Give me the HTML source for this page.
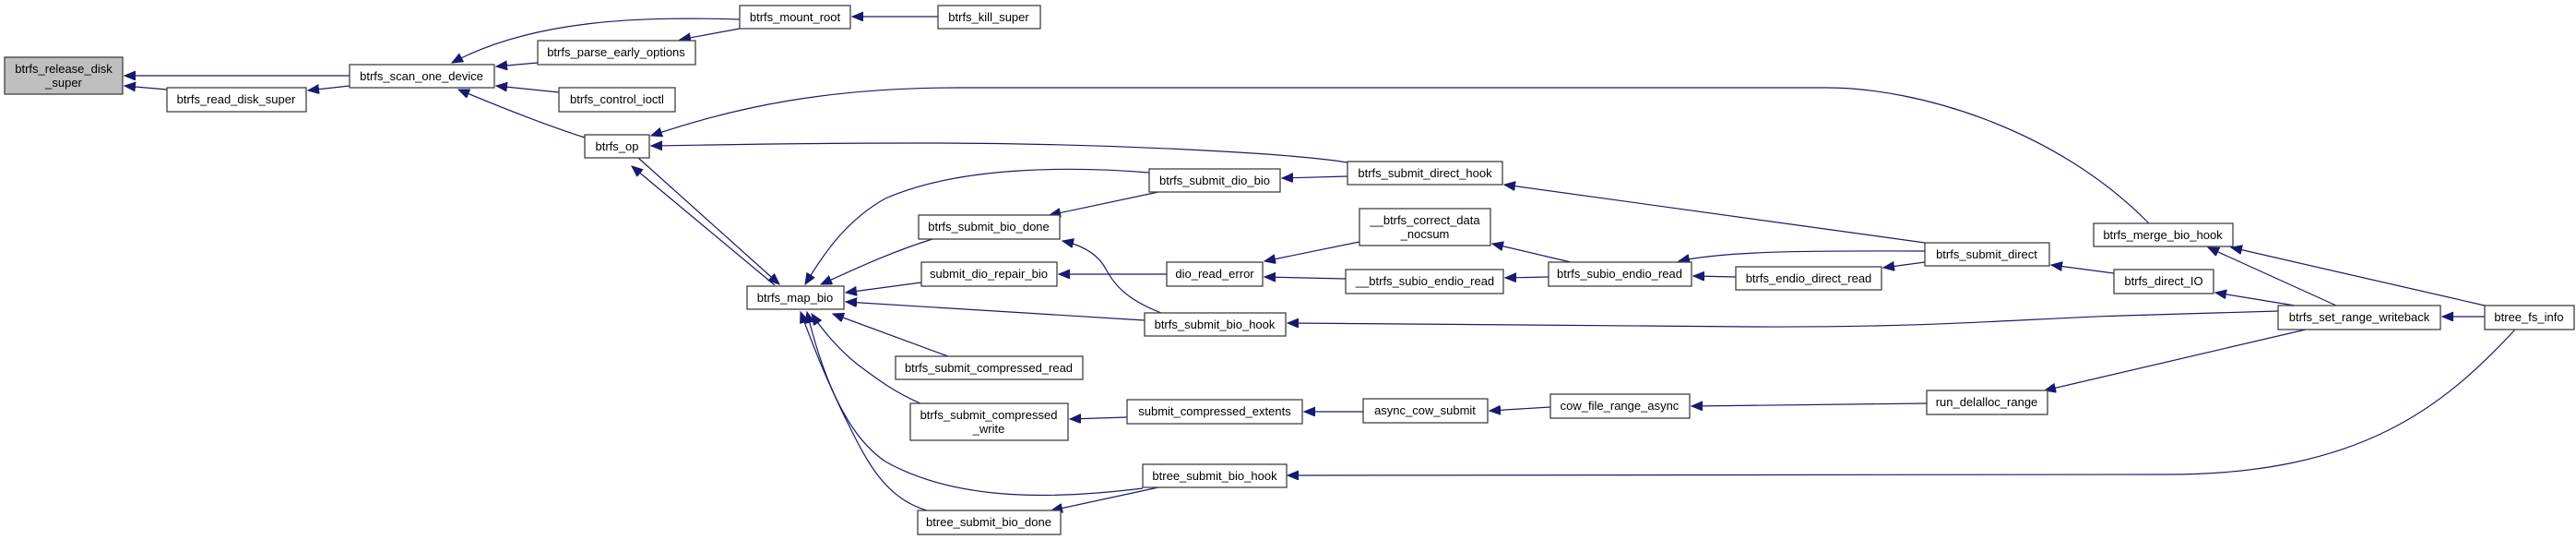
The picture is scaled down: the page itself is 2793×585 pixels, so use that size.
<!DOCTYPE html>
<html><head><meta charset="utf-8"><style>
html,body{margin:0;padding:0;background:#fff;}
svg{display:block;}
text{font-family:"Liberation Sans",Arial,sans-serif;font-size:13px;fill:#000;text-anchor:middle;}
.n{fill:#fff;stroke:#404040;stroke-width:1.3;}
.e{fill:none;stroke:#191970;stroke-width:1.2;marker-end:url(#a);}
</style></head><body>
<svg width="2793" height="585" viewBox="0 0 2793 585" xmlns="http://www.w3.org/2000/svg">
<defs><marker id="a" markerUnits="userSpaceOnUse" markerWidth="14" markerHeight="12" refX="12" refY="5" orient="auto"><path d="M0,0 L12,5 L0,10 Z" fill="#191970" stroke="#191970"/></marker></defs>
<g>
<path class="e" d="M379,82 L135,82"/>
<path class="e" d="M181,97 L135,93"/>
<path class="e" d="M379,93 L334,98"/>
<path class="e" d="M802,21 C700,18 580,20 490,68"/>
<path class="e" d="M583,68 L538,72"/>
<path class="e" d="M606,100 L538,93"/>
<path class="e" d="M634,149 C590,135 540,115 497,97"/>
<path class="e" d="M802,31 L737,43"/>
<path class="e" d="M1017,18 L924,18"/>
<path class="e" d="M2330,242 C2230,140 2080,95 1980,95 L1040,95 C900,95 800,115 706,147"/>
<path class="e" d="M1461,176 C1400,166 1200,155 1000,155 C860,155 780,157 706,158"/>
<path class="e" d="M840,309 L685,180"/>
<path class="e" d="M692,171 L845,308"/>
<path class="e" d="M1246,187 C1160,180 1040,180 960,215 C915,240 890,280 873,308"/>
<path class="e" d="M1011,259 C960,275 920,295 890,308"/>
<path class="e" d="M999,306 L917,317"/>
<path class="e" d="M1241,347 L917,327"/>
<path class="e" d="M1028,386 L903,340"/>
<path class="e" d="M998,437 C970,425 950,410 930,395 C905,375 890,355 880,340"/>
<path class="e" d="M1239,529 C1150,540 1040,545 960,500 C915,470 890,400 875,338"/>
<path class="e" d="M1005,553 C960,540 940,500 920,460 C895,410 880,370 868,338"/>
<path class="e" d="M1256,208 L1138,233"/>
<path class="e" d="M1461,191 L1390,193"/>
<path class="e" d="M2087,263 L1631,200"/>
<path class="e" d="M1259,339 C1210,320 1205,300 1195,285 C1185,272 1170,265 1152,261"/>
<path class="e" d="M1265,297 L1148,297"/>
<path class="e" d="M1474,262 L1371,283"/>
<path class="e" d="M1459,302 L1371,300"/>
<path class="e" d="M1703,284 L1618,264"/>
<path class="e" d="M1679,300 L1632,301"/>
<path class="e" d="M2087,272 C2000,272 1880,270 1820,283"/>
<path class="e" d="M1882,300 L1836,299"/>
<path class="e" d="M2087,284 L2042,290"/>
<path class="e" d="M2292,296 L2224,287"/>
<path class="e" d="M2488,331 L2402,317"/>
<path class="e" d="M2533,331 L2394,268"/>
<path class="e" d="M2694,331 L2419,268"/>
<path class="e" d="M2694,343 L2648,343"/>
<path class="e" d="M2470,337 L2300,342 C2200,345 2100,355 1900,354 L1396,350"/>
<path class="e" d="M2500,357 L2217,423"/>
<path class="e" d="M2089,437 L1834,440"/>
<path class="e" d="M1681,441 L1615,445"/>
<path class="e" d="M1478,446 L1414,446"/>
<path class="e" d="M1222,452 L1160,454"/>
<path class="e" d="M2727,357 C2650,440 2560,514 2350,514 L1396,515"/>
<path class="e" d="M1256,528 L1140,553"/>
</g>
<g>
<rect x="5" y="62" width="128" height="40" fill="#bfbfbf" stroke="#404040" stroke-width="1.3"/>
<text x="69" y="79">btrfs_release_disk</text><text x="69" y="94">_super</text>
<rect class="n" x="181" y="95" width="151" height="26"/><text x="256" y="112">btrfs_read_disk_super</text>
<rect class="n" x="379" y="70" width="157" height="25"/><text x="457" y="87">btrfs_scan_one_device</text>
<rect class="n" x="583" y="44" width="171" height="26"/><text x="668" y="61">btrfs_parse_early_options</text>
<rect class="n" x="606" y="95" width="126" height="26"/><text x="669" y="112">btrfs_control_ioctl</text>
<rect class="n" x="634" y="146" width="70" height="25"/><text x="669" y="163">btrfs_op</text>
<rect class="n" x="802" y="6" width="120" height="25"/><text x="862" y="23">btrfs_mount_root</text>
<rect class="n" x="1017" y="6" width="111" height="25"/><text x="1072" y="23">btrfs_kill_super</text>
<rect class="n" x="810" y="310" width="105" height="25"/><text x="862" y="327">btrfs_map_bio</text>
<rect class="n" x="1246" y="183" width="142" height="25"/><text x="1317" y="200">btrfs_submit_dio_bio</text>
<rect class="n" x="996" y="233" width="153" height="26"/><text x="1072" y="250">btrfs_submit_bio_done</text>
<rect class="n" x="999" y="284" width="147" height="26"/><text x="1072" y="301">submit_dio_repair_bio</text>
<rect class="n" x="1265" y="284" width="104" height="26"/><text x="1317" y="301">dio_read_error</text>
<rect class="n" x="1241" y="339" width="153" height="25"/><text x="1317" y="356">btrfs_submit_bio_hook</text>
<rect class="n" x="971" y="386" width="203" height="25"/><text x="1072" y="403">btrfs_submit_compressed_read</text>
<rect class="n" x="987" y="437" width="171" height="40"/><text x="1072" y="454">btrfs_submit_compressed</text><text x="1072" y="469">_write</text>
<rect class="n" x="1222" y="433" width="190" height="26"/><text x="1317" y="450">submit_compressed_extents</text>
<rect class="n" x="1239" y="503" width="156" height="25"/><text x="1317" y="520">btree_submit_bio_hook</text>
<rect class="n" x="995" y="553" width="155" height="26"/><text x="1072" y="570">btree_submit_bio_done</text>
<rect class="n" x="1461" y="175" width="168" height="25"/><text x="1545" y="192">btrfs_submit_direct_hook</text>
<rect class="n" x="1474" y="226" width="142" height="40"/><text x="1545" y="243">__btrfs_correct_data</text><text x="1545" y="258">_nocsum</text>
<rect class="n" x="1459" y="292" width="171" height="26"/><text x="1545" y="309">__btrfs_subio_endio_read</text>
<rect class="n" x="1679" y="284" width="155" height="26"/><text x="1756" y="301">btrfs_subio_endio_read</text>
<rect class="n" x="1882" y="289" width="158" height="25"/><text x="1961" y="306">btrfs_endio_direct_read</text>
<rect class="n" x="2087" y="263" width="135" height="25"/><text x="2154" y="280">btrfs_submit_direct</text>
<rect class="n" x="1478" y="432" width="135" height="26"/><text x="1545" y="449">async_cow_submit</text>
<rect class="n" x="1681" y="427" width="151" height="26"/><text x="1756" y="444">cow_file_range_async</text>
<rect class="n" x="2089" y="423" width="131" height="26"/><text x="2154" y="440">run_delalloc_range</text>
<rect class="n" x="2270" y="242" width="151" height="25"/><text x="2345" y="259">btrfs_merge_bio_hook</text>
<rect class="n" x="2292" y="292" width="108" height="26"/><text x="2346" y="309">btrfs_direct_IO</text>
<rect class="n" x="2470" y="331" width="176" height="26"/><text x="2558" y="348">btrfs_set_range_writeback</text>
<rect class="n" x="2694" y="331" width="97" height="26"/><text x="2742" y="348">btree_fs_info</text>
</g>
</svg>
</body></html>
